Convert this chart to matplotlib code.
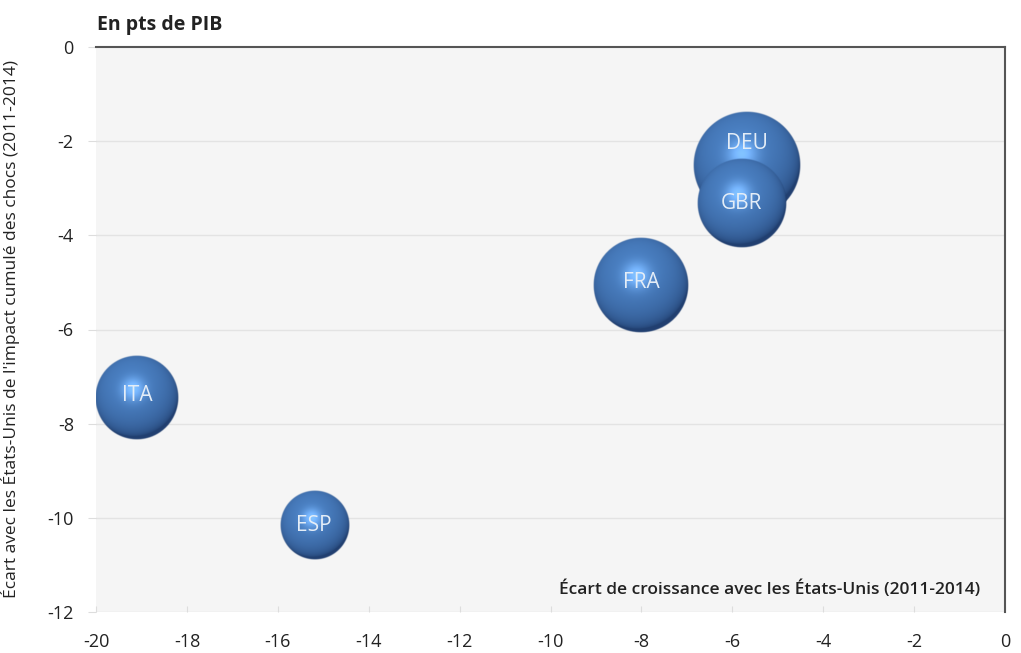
import numpy as np
import matplotlib
matplotlib.use("Agg")
import matplotlib.pyplot as plt

plt.rcParams['font.family'] = ['Open Sans', 'DejaVu Sans']
plt.rcParams['axes.unicode_minus'] = False

# Data
countries = ["DEU", "GBR", "FRA", "ITA", "ESP"]
growth_gap = [-5.67, -5.8, -8.0, -19.1, -15.2]      # x: Écart de croissance
shock_impact = [-2.5, -3.32, -5.05, -7.45, -10.17]  # y: impact cumulé des chocs
bubble_size = [3.9, 2.66, 3.09, 2.37, 1.60]
label_dy = [0.45, 0.0, 0.05, 0.05, 0.0]             # label shift (data units)

W, H, DPI = 1021, 653, 100
ax_left, ax_right, ax_top, ax_bot = 96, 1005, 47, 612
xmin, xmax, ymin, ymax = -20, 0, -12, 0
px_x = (ax_right - ax_left) / (xmax - xmin)
px_y = (ax_bot - ax_top) / (ymax - ymin)
k_radius = 27.3  # pixel radius per sqrt(size)


def sphere(r_px, n=220):
    t = np.linspace(-1, 1, n)
    X, Y = np.meshgrid(t, t)
    d = np.sqrt(X**2 + Y**2)
    nz = np.sqrt(np.clip(1 - d**2, 0, 1))
    L = np.array([-0.2, 0.45, 1.0])
    L = L / np.linalg.norm(L)
    diff = np.clip(X * L[0] + Y * L[1] + nz * L[2], 0, 1)
    Hv = L + np.array([0, 0, 1.0])
    Hv = Hv / np.linalg.norm(Hv)
    spec = np.clip(X * Hv[0] + Y * Hv[1] + nz * Hv[2], 0, 1) ** 25
    dark = np.array([0.13, 0.25, 0.44])
    base = np.array([0.29, 0.50, 0.76])
    w = np.clip(diff, 0, 1) ** 0.6
    col = dark[None, None, :] * (1 - w[..., None]) + base[None, None, :] * w[..., None]
    col = col + 0.30 * spec[..., None] * np.array([0.75, 0.9, 1.0])
    col = np.clip(col, 0, 1)
    alpha = np.clip((1 - d) * r_px, 0, 1)
    return np.dstack([col, alpha])


fig = plt.figure(figsize=(W / DPI, H / DPI), dpi=DPI)
ax = fig.add_axes([ax_left / W, 1 - ax_bot / H, (ax_right - ax_left) / W, (ax_bot - ax_top) / H])
ax.set_facecolor("#f5f5f5")

yticks = np.arange(0, -13, -2)
for yv in yticks[1:]:
    ax.axhline(yv, color="#e3e3e3", lw=1, zorder=0)

for c, x, y, s, dy in zip(countries, growth_gap, shock_impact, bubble_size, label_dy):
    r = k_radius * np.sqrt(s)
    rx, ry = r / px_x, r / px_y
    ax.imshow(sphere(r), extent=[x - rx, x + rx, y - ry, y + ry], origin="lower",
              aspect="auto", interpolation="bilinear", zorder=3)
    ax.text(x, y + dy, c, color="#e4edf7", fontsize=15, ha="center", va="center", zorder=4)

ax.set_xlim(xmin, xmax)
ax.set_ylim(ymin, ymax)
ax.set_xticks(np.arange(-20, 1, 2))
ax.set_yticks(yticks)

for side in ["left", "bottom"]:
    ax.spines[side].set_visible(False)
for side in ["top", "right"]:
    ax.spines[side].set_color("#555555")
    ax.spines[side].set_linewidth(1.5)

ax.tick_params(axis="x", direction="in", length=4, color="#dddddd", labelsize=13,
               labelcolor="#222222", pad=15)
ax.tick_params(axis="y", direction="out", length=6, color="#dddddd", labelsize=13,
               labelcolor="#222222", pad=10)

ax.set_ylabel("Écart avec les États-Unis de l'impact cumulé des chocs (2011-2014)",
              fontsize=12.5, color="#222222")
ax.yaxis.set_label_coords((20 - ax_left) / (ax_right - ax_left), 0.5)
ax.text(0.9725, 0.025, "Écart de croissance avec les États-Unis (2011-2014)", transform=ax.transAxes,
        ha="right", va="bottom", fontsize=12.5, fontweight="semibold", color="#222222")
fig.text(97 / W, 1 - 25 / H, "En pts de PIB", ha="left", va="center", fontsize=14,
         fontweight="bold", color="#222222")

fig.savefig("out.png", dpi=DPI)
